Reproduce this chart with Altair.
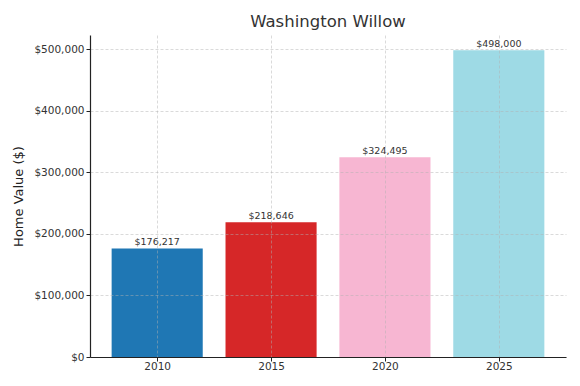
import altair as alt
import pandas as pd

years = [2010, 2015, 2020, 2025]
values = [176217, 218646, 324495, 498000]
colors = ["#1f77b4", "#d62728", "#f7b6d2", "#9edae5"]

df = pd.DataFrame({"year": years, "value": values, "color": colors})

FONT = "DejaVu Sans"
GRID = dict(grid=True, gridColor="#b0b0b0", gridOpacity=0.6, gridDash=[3, 2],
            gridWidth=0.8)

base = alt.Chart(df).transform_calculate(
    x0="datum.year - 2", x1="datum.year + 2"
)

xscale = alt.Scale(domain=[2007.05, 2027.95], nice=False, zero=False, padding=0)
yscale = alt.Scale(domain=[0, 522900], nice=False, padding=0)

bars = base.mark_bar().encode(
    x=alt.X("x0:Q", scale=xscale,
            axis=alt.Axis(values=years, format="d", title=None, **GRID,
                          domainColor="#222", domainWidth=1.2,
                          tickColor="#222", tickSize=4, tickWidth=1,
                          labelFont=FONT, labelFontSize=10.5, labelColor="#333",
                          labelPadding=0, zindex=1)),
    x2="x1:Q",
    y=alt.Y("value:Q", scale=yscale,
            axis=alt.Axis(values=[0, 100000, 200000, 300000, 400000, 500000],
                          format="$,.0f", title="Home Value ($)", **GRID,
                          domainColor="#222", domainWidth=1.2,
                          tickColor="#222", tickSize=4, tickWidth=1,
                          labelFont=FONT, labelFontSize=10.5, labelColor="#333",
                          labelPadding=2, titleFont=FONT, titleFontSize=13,
                          titleFontWeight="normal", titleColor="#222",
                          titlePadding=8, zindex=1)),
    y2=alt.datum(0),
    color=alt.Color("color:N", scale=None),
)

labels = base.mark_text(baseline="bottom", dy=-1, font=FONT, fontSize=9.5,
                        color="#333").encode(
    x=alt.X("year:Q", scale=xscale),
    y=alt.Y("value:Q", scale=yscale),
    text=alt.Text("value:Q", format="$,.0f"),
)

chart = alt.layer(bars, labels).properties(
    width=476, height=322,
    title=alt.TitleParams("Washington Willow", font=FONT, fontSize=16.5,
                          fontWeight="normal", color="#333", offset=5),
    autosize=alt.AutoSizeParams(type="none"),
    padding={"left": 82, "top": 27, "right": 6, "bottom": 21},
).configure_view(stroke=None)

chart.save("out.html", embed_options={"renderer": "svg", "actions": False})
